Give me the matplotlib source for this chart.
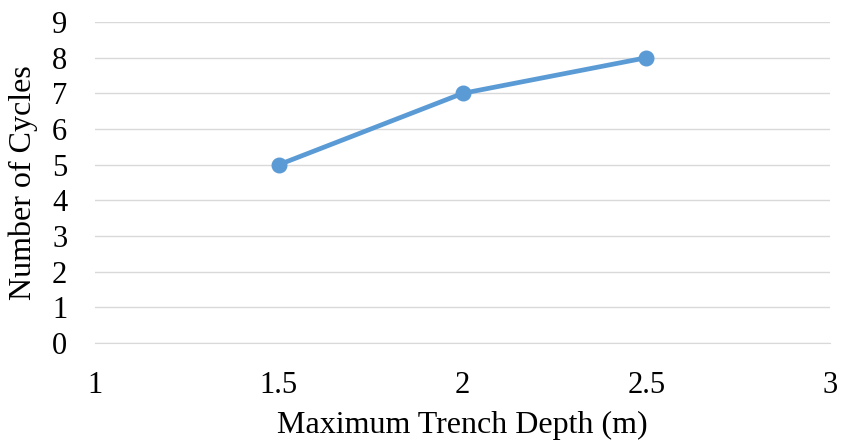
import matplotlib
matplotlib.use('Agg')
import matplotlib.pyplot as plt

# data
depth = [1.5, 2, 2.5]
cycles = [5, 7, 8]
x_ticks = [1, 1.5, 2, 2.5, 3]
x_labels = ['1', '1.5', '2', '2.5', '3']
y_ticks = list(range(0, 10))

plt.rcParams['font.family'] = ['Liberation Serif', 'DejaVu Serif']

fig = plt.figure(figsize=(8.41, 4.41), dpi=100)
ax = fig.add_axes([0.113, 0.222, 0.874, 0.728])

ax.plot(depth, cycles, color='#5B9BD5', linewidth=3.4, marker='o',
        markersize=10.5, zorder=3)

ax.set_xlim(1, 3)
ax.set_ylim(0, 9)
ax.set_xticks(x_ticks)
ax.set_xticklabels(x_labels)
ax.set_yticks(y_ticks)

ax.grid(axis='y', color='#D9D9D9', linewidth=1)
ax.set_axisbelow(True)
for s in ['top', 'right', 'left']:
    ax.spines[s].set_visible(False)
ax.spines['bottom'].set_color('#D9D9D9')

ax.tick_params(axis='both', length=0, labelsize=22)
ax.tick_params(axis='x', pad=20)
ax.tick_params(axis='y', pad=20)

ax.set_xlabel('Maximum Trench Depth (m)', fontsize=23, labelpad=8)
ax.set_ylabel('Number of Cycles', fontsize=23, labelpad=10)

fig.savefig('out.png', dpi=100)
